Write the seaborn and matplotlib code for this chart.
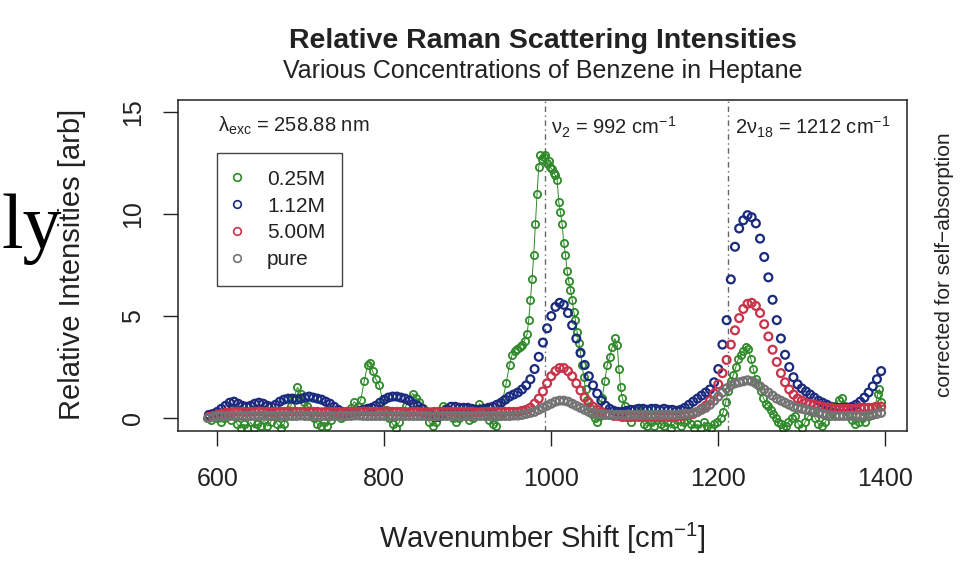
import matplotlib
matplotlib.use("Agg")
import matplotlib.pyplot as plt
import seaborn as sns
from matplotlib.lines import Line2D

# ---------------- data ----------------
wavenumber = list(range(590, 1400, 5))

conc_112M = [
    0.15, 0.2, 0.3, 0.45, 0.6, 0.75, 0.8, 0.7, 0.6, 0.55,
    0.6, 0.7, 0.75, 0.7, 0.6, 0.55, 0.65, 0.8, 0.9, 0.95,
    0.95, 0.9, 0.95, 1.0, 1.05, 1.0, 0.95, 0.9, 0.8, 0.7,
    0.55, 0.4, 0.3, 0.25, 0.3, 0.3, 0.35, 0.4, 0.45, 0.5,
    0.6, 0.75, 0.9, 1.0, 1.05, 1.05, 1.0, 0.95, 0.85, 0.7,
    0.6, 0.45, 0.3, 0.15, 0.05, 0.05, 0.2, 0.4, 0.55, 0.55,
    0.5, 0.5, 0.5, 0.45, 0.4, 0.4, 0.45, 0.5, 0.55, 0.65,
    0.75, 0.9, 1.05, 1.15, 1.25, 1.4, 1.6, 1.9, 2.4, 3.0,
    3.7, 4.4, 5.0, 5.45, 5.65, 5.55, 5.15, 4.55, 3.9, 3.2,
    2.6, 2.05, 1.6, 1.2, 0.85, 0.6, 0.45, 0.35, 0.3, 0.3,
    0.35, 0.4, 0.4, 0.45, 0.45, 0.4, 0.45, 0.45, 0.4, 0.45,
    0.4, 0.4, 0.35, 0.4, 0.5, 0.65, 0.8, 0.95, 1.1, 1.25,
    1.4, 1.75, 2.4, 3.6, 4.8, 6.8, 8.4, 9.3, 9.7, 9.95,
    9.85, 9.55, 8.8, 7.9, 6.9, 5.8, 4.8, 3.9, 3.1, 2.5,
    2.0, 1.65, 1.45, 1.3, 1.15, 1.0, 0.85, 0.75, 0.65, 0.55,
    0.5, 0.5, 0.5, 0.5, 0.55, 0.65, 0.8, 1.0, 1.25, 1.55,
    1.9, 2.3,
]

conc_500M = [
    0.05, 0.1, 0.15, 0.2, 0.25, 0.25, 0.3, 0.3, 0.3, 0.28,
    0.3, 0.3, 0.32, 0.3, 0.3, 0.28, 0.3, 0.3, 0.3, 0.32,
    0.3, 0.3, 0.3, 0.3, 0.32, 0.3, 0.3, 0.28, 0.3, 0.3,
    0.3, 0.28, 0.28, 0.3, 0.3, 0.3, 0.3, 0.32, 0.3, 0.3,
    0.3, 0.3, 0.32, 0.32, 0.3, 0.3, 0.3, 0.3, 0.28, 0.3,
    0.3, 0.28, 0.28, 0.28, 0.3, 0.3, 0.3, 0.3, 0.3, 0.3,
    0.3, 0.3, 0.3, 0.3, 0.28, 0.28, 0.3, 0.3, 0.3, 0.3,
    0.3, 0.3, 0.3, 0.3, 0.3, 0.35, 0.4, 0.5, 0.7, 0.95,
    1.3, 1.7, 2.05, 2.3, 2.45, 2.45, 2.3, 2.05, 1.7, 1.35,
    1.0, 0.75, 0.55, 0.4, 0.3, 0.2, 0.15, 0.1, 0.1, 0.05,
    0.05, 0.05, 0.05, 0.05, 0.05, 0.05, 0.05, 0.05, 0.05, 0.05,
    0.05, 0.05, 0.08, 0.1, 0.12, 0.15, 0.2, 0.3, 0.45, 0.6,
    0.85, 1.2, 1.65, 2.2, 2.85, 3.6, 4.3, 4.9, 5.35, 5.6,
    5.65, 5.5, 5.15, 4.6, 4.0, 3.35, 2.75, 2.2, 1.75, 1.4,
    1.15, 0.95, 0.85, 0.75, 0.7, 0.65, 0.6, 0.55, 0.5, 0.5,
    0.45, 0.45, 0.45, 0.45, 0.45, 0.45, 0.5, 0.5, 0.5, 0.5,
    0.55, 0.55,
]

pure = [
    0.0, 0.05, 0.1, 0.1, 0.1, 0.1, 0.1, 0.1, 0.1, 0.1,
    0.1, 0.1, 0.1, 0.12, 0.1, 0.1, 0.1, 0.1, 0.1, 0.1,
    0.1, 0.1, 0.12, 0.1, 0.1, 0.1, 0.1, 0.1, 0.1, 0.1,
    0.1, 0.1, 0.1, 0.1, 0.1, 0.12, 0.12, 0.1, 0.1, 0.1,
    0.1, 0.1, 0.1, 0.1, 0.1, 0.1, 0.1, 0.1, 0.1, 0.1,
    0.1, 0.1, 0.1, 0.08, 0.08, 0.1, 0.1, 0.1, 0.1, 0.1,
    0.1, 0.1, 0.1, 0.1, 0.1, 0.1, 0.1, 0.1, 0.1, 0.1,
    0.1, 0.1, 0.1, 0.12, 0.12, 0.15, 0.2, 0.25, 0.3, 0.4,
    0.5, 0.6, 0.7, 0.8, 0.85, 0.85, 0.8, 0.7, 0.6, 0.5,
    0.4, 0.3, 0.25, 0.2, 0.18, 0.15, 0.15, 0.15, 0.15, 0.15,
    0.15, 0.15, 0.15, 0.15, 0.15, 0.15, 0.15, 0.15, 0.15, 0.15,
    0.15, 0.15, 0.15, 0.18, 0.2, 0.2, 0.25, 0.3, 0.4, 0.5,
    0.65, 0.85, 1.05, 1.25, 1.45, 1.6, 1.7, 1.75, 1.8, 1.85,
    1.8, 1.7, 1.55, 1.4, 1.25, 1.1, 0.95, 0.85, 0.75, 0.65,
    0.55, 0.5, 0.45, 0.4, 0.35, 0.3, 0.25, 0.2, 0.15, 0.1,
    0.1, 0.1, 0.1, 0.1, 0.1, 0.1, 0.1, 0.1, 0.12, 0.15,
    0.2, 0.25,
]

conc_025M_x = [
    588, 592, 596, 600, 604, 608, 612, 616, 620, 624, 628, 632, 636, 640,
    644, 648, 652, 656, 660, 664, 668, 672, 676, 680, 684, 688, 692, 696,
    700, 704, 708, 712, 716, 720, 724, 728, 732, 736, 740, 744, 748, 752,
    756, 760, 764, 768, 772, 776, 780, 783, 786, 790, 794, 798, 802, 806,
    810, 814, 818, 822, 826, 830, 834, 838, 842, 846, 850, 854, 858, 862,
    866, 870, 874, 878, 882, 886, 890, 894, 898, 902, 906, 910, 914, 918,
    922, 926, 930, 934, 938, 942, 946, 950, 953, 956, 959, 962, 965, 968,
    971, 973, 975, 977, 979, 981, 983, 985, 987, 989, 991, 993, 995, 997,
    999, 1001, 1003, 1005, 1007, 1009, 1011, 1013, 1015, 1017, 1019, 1021,
    1023, 1025, 1027, 1029, 1031, 1033, 1035, 1037, 1039, 1041, 1043, 1046,
    1049, 1052, 1055, 1058, 1061, 1064, 1067, 1070, 1073, 1076, 1079, 1081,
    1083, 1085, 1088, 1091, 1095, 1099, 1103, 1107, 1111, 1115, 1119, 1123,
    1127, 1131, 1135, 1139, 1143, 1147, 1151, 1155, 1159, 1163, 1167, 1171,
    1175, 1179, 1183, 1187, 1191, 1195, 1199, 1203, 1206, 1209, 1212, 1215,
    1218, 1221, 1224, 1227, 1230, 1233, 1236, 1239, 1242, 1245, 1248, 1251,
    1254, 1257, 1260, 1263, 1266, 1269, 1272, 1275, 1278, 1281, 1284, 1288,
    1292, 1296, 1300, 1304, 1308, 1312, 1316, 1320, 1324, 1328, 1332, 1336,
    1340, 1344, 1348, 1352, 1356, 1360, 1364, 1368, 1372, 1376, 1380, 1384,
    1388, 1391, 1393, 1395,
]
conc_025M = [
    0.0, -0.1, 0.1, 0.0, -0.2, 0.0, 0.2, -0.1, 0.1, -0.3, -0.5, -0.3, -0.5, -0.2,
    -0.5, -0.3, -0.4, -0.1, -0.4, -0.2, 0.1, -0.3, -0.5, -0.3, 0.3, 0.6, 1.0, 1.5,
    1.2, 0.8, 0.6, 0.3, 0.0, -0.3, -0.4, -0.2, -0.4, -0.1, 0.1, 0.2, 0.0, 0.1,
    0.2, 0.5, 0.8, 0.6, 0.9, 1.8, 2.6, 2.7, 2.3, 1.9, 1.6, 0.9, 0.4, 0.0,
    -0.3, -0.5, -0.2, 0.3, 0.6, 0.9, 1.2, 1.0, 0.8, 0.5, 0.1, -0.2, -0.4, -0.2,
    0.2, 0.6, 0.5, 0.2, 0.0, -0.2, 0.0, 0.2, 0.1, -0.1, 0.0, 0.4, 0.7, 0.5,
    0.2, -0.1, -0.3, -0.4, 0.1, 0.9, 1.7, 2.6, 3.1, 3.3, 3.4, 3.5, 3.6, 3.8,
    4.1, 4.8, 5.8, 6.8, 8.0, 9.5, 11.0, 12.3, 12.9, 12.7, 12.8, 12.9, 12.5, 12.6,
    12.3, 12.2, 12.0, 11.9, 11.7, 10.6, 10.1, 9.5, 8.6, 8.0, 7.2, 6.7,
    6.3, 5.8, 5.2, 4.8, 4.2, 3.7, 3.2, 2.6, 2.0, 1.4, 0.9, 0.5,
    0.2, 0.0, -0.2, 0.1, 1.0, 1.8, 2.6, 3.0, 3.5, 3.9, 3.6, 2.4,
    1.5, 1.0, 0.6, 0.1, -0.2, 0.2, 0.5, 0.1, -0.3, -0.4, -0.2, -0.4,
    -0.1, -0.3, -0.4, -0.2, -0.5, -0.3, -0.1, -0.4, -0.2, -0.1, -0.3, -0.5,
    -0.3, -0.5, -0.2, -0.4, -0.5, -0.3, -0.2, 0.0, 0.3, 0.8, 1.3, 1.8,
    2.1, 2.5, 2.9, 3.1, 3.3, 3.5, 3.4, 2.9, 2.4, 1.9, 1.6, 1.3,
    1.0, 0.7, 0.6, 0.4, 0.2, 0.0, -0.2, -0.3, -0.5, -0.4, -0.2, 0.0,
    0.1, -0.3, -0.5, -0.2, 0.1, 0.3, 0.0, -0.3, -0.4, -0.2, 0.1, 0.3,
    0.6, 0.9, 1.0, 0.6, 0.2, -0.1, -0.3, -0.2, 0.0, -0.2, 0.1, 0.2,
    0.6, 1.2, 1.4, 0.8,
]

series_labels = ["0.25M", "1.12M", "5.00M", "pure"]
series_colors = ["#2f8a2a", "#1a2a7e", "#c9334a", "#737373"]
x_ticks = [600, 800, 1000, 1200, 1400]
y_ticks = [0, 5, 10, 15]
band_positions = [992, 1212]
band_labels = ["ν$_{2}$ = 992 cm$^{-1}$", "2ν$_{18}$ = 1212 cm$^{-1}$"]

# ---------------- style ----------------
sns.set_style("ticks")
plt.rcParams["font.family"] = ["Liberation Sans", "DejaVu Sans"]
plt.rcParams["mathtext.fontset"] = "custom"
plt.rcParams["mathtext.rm"] = "Liberation Sans"
plt.rcParams["mathtext.it"] = "Liberation Sans:italic"
plt.rcParams["mathtext.bf"] = "Liberation Sans:bold"
plt.rcParams["mathtext.default"] = "rm"

fig = plt.figure(figsize=(9.6, 5.69), dpi=100)
ax = fig.add_axes([0.1854, 0.2425, 0.7594, 0.5817])

for xb in band_positions:
    ax.axvline(xb, color="#666666", lw=1.0, ls=(0, (4, 2.5, 1, 2.5)), zorder=1)

# 0.25M : points joined by thin lines
sns.lineplot(x=conc_025M_x, y=conc_025M, ax=ax, color=series_colors[0],
             lw=0.7, marker="o", markersize=5.2, mfc="none",
             mec=series_colors[0], mew=1.3, estimator=None, sort=False,
             errorbar=None, zorder=2)

for vals, col, z in zip([conc_112M, conc_500M, pure], series_colors[1:], [3, 4, 5]):
    sns.scatterplot(x=wavenumber, y=vals, ax=ax, marker="o", s=32,
                    facecolors="none", edgecolor=col, color=col,
                    linewidth=1.6, zorder=z)

ax.set_xlim(553, 1426)
ax.set_ylim(-0.64, 15.6)
ax.set_xticks(x_ticks)
ax.set_yticks(y_ticks)
ax.set_xticklabels([str(v) for v in x_ticks])
ax.set_yticklabels([str(v) for v in y_ticks])
ax.set_xlabel("")
ax.set_ylabel("")
for sp in ax.spines.values():
    sp.set_visible(True)
    sp.set_color("#222222")
    sp.set_linewidth(1.1)
ax.tick_params(axis="both", direction="out", length=10.8, width=1.0,
               color="#222222", labelsize=18, labelcolor="#222222")
ax.tick_params(axis="x", pad=15)
ax.tick_params(axis="y", pad=13, labelrotation=90)
for lab in ax.get_yticklabels():
    lab.set_verticalalignment("center")

# annotations inside plot
ax.text(601, 14.35, "λ$_{\\mathrm{exc}}$ = 258.88 nm", fontsize=14.5,
        va="center", ha="left", color="#222222")
ax.text(1000, 14.26, band_labels[0], fontsize=14.5, va="center", ha="left",
        color="#222222")
ax.text(1220, 14.26, band_labels[1], fontsize=14.5, va="center", ha="left",
        color="#222222")

# legend
handles = [Line2D([], [], ls="", marker="o", mfc="none", mec=c, mew=1.2, ms=5.5)
           for c in series_colors]
leg = ax.legend(handles, series_labels, loc="upper left",
                bbox_to_anchor=(0.0535, 0.84), borderaxespad=0,
                fontsize=15, frameon=True, fancybox=False, framealpha=1,
                edgecolor="#444444", borderpad=0.8, handlelength=0.3,
                handletextpad=1.3, labelspacing=0.38)
leg.get_frame().set_linewidth(1.0)
for t in leg.get_texts():
    t.set_color("#222222")

# figure texts
cx = (0.1854 + 0.1854 + 0.7594) / 2
fig.text(cx, 0.9156, "Relative Raman Scattering Intensities", ha="center",
         va="baseline", fontsize=20.5, fontweight="bold", color="#222222")
fig.text(cx, 0.863, "Various Concentrations of Benzene in Heptane",
         ha="center", va="baseline", fontsize=18, color="#222222")
fig.text(cx, 0.037, "Wavenumber Shift [cm$^{-1}$]", ha="center",
         va="baseline", fontsize=21, color="#222222")
fig.text(0.075, 0.535, "Relative Intensities [arb]", ha="center",
         va="center", rotation=90, fontsize=21, color="#222222")
fig.text(0.984, 0.535, "corrected for self\u2212absorption", ha="center",
         va="center", rotation=90, fontsize=15, color="#222222")
fig.text(0.002, 1 - 248 / 569, "ly", ha="left", va="baseline",
         fontsize=56, family="Liberation Serif", color="black")

fig.savefig("out.png", dpi=100)
